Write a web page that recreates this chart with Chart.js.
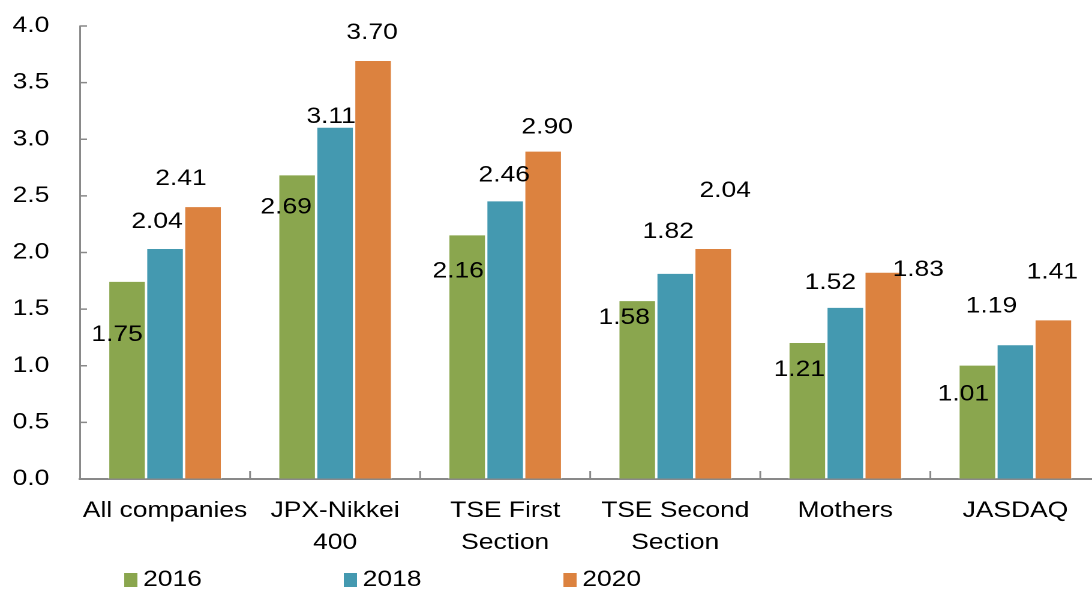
<!DOCTYPE html>
<html>
<head>
<meta charset="utf-8">
<script src="https://cdn.jsdelivr.net/npm/chart.js"></script>
<style>
    html, body { margin: 0; padding: 0; background: #fff; overflow: hidden; }
    /* the source picture is stretched sideways, so the chart is drawn narrow and widened */
    #wrap { width: 917px; height: 592px; transform: scaleX(1.2); transform-origin: 0 0; }
</style>
</head>
<body>
<div id="wrap"><canvas id="chart"></canvas></div>
<script>
document.addEventListener('DOMContentLoaded', () => {

    // --- data ---
    const categories = [
        'All companies',
        ['JPX-Nikkei', '400'],
        ['TSE First', 'Section'],
        ['TSE Second', 'Section'],
        'Mothers',
        'JASDAQ'
    ];
    const years = ['2016', '2018', '2020'];
    const values2016 = [1.75, 2.69, 2.16, 1.58, 1.21, 1.01];
    const values2018 = [2.04, 3.11, 2.46, 1.82, 1.52, 1.19];
    const values2020 = [2.41, 3.70, 2.90, 2.04, 1.83, 1.41];
    const yTicks = [0, 0.5, 1.0, 1.5, 2.0, 2.5, 3.0, 3.5, 4.0];

    // --- look ---
    const STRETCH = 1.2;
    const FONT = '"Liberation Sans", Arial, Helvetica, sans-serif';
    const AXIS_GREY = '#898989';
    const colors = ['#8aa64e', '#4499b0', '#dc823f'];

    // where each value label sits, relative to the top centre of its bar (picture px)
    const labelShift = [
        [[-10, 54], [-11, 33], [-9, 37], [-13, 18], [-8, 28], [-14, 30]],
        [[-8, -26], [-4, -10], [-1, -25], [-7, -41], [-15, -24], [-24, -38]],
        [[-22, -27], [-1, -27], [4, -23], [12, -57], [35, -2], [-1, -47]]
    ];

    Chart.defaults.font.family = FONT;
    Chart.defaults.font.size = 22;
    Chart.defaults.color = '#000';

    const series = [values2016, values2018, values2020];

    const valueLabels = {
        id: 'valueLabels',
        afterDatasetsDraw(chart) {
            const ctx = chart.ctx;
            ctx.save();
            ctx.font = '22px ' + FONT;
            ctx.fillStyle = '#000';
            ctx.textAlign = 'center';
            ctx.textBaseline = 'middle';
            chart.data.datasets.forEach((ds, d) => {
                chart.getDatasetMeta(d).data.forEach((bar, i) => {
                    const [dx, dy] = labelShift[d][i];
                    ctx.fillText(ds.data[i].toFixed(2), bar.x + dx / STRETCH, bar.y + dy);
                });
            });
            ctx.restore();
        }
    };

    // tick marks that point into the plot, plus the legend along the bottom
    const extras = {
        id: 'extras',
        afterDraw(chart) {
            const ctx = chart.ctx;
            const x = chart.scales.x;
            const y = chart.scales.y;
            const area = chart.chartArea;
            ctx.save();
            ctx.strokeStyle = AXIS_GREY;
            ctx.lineWidth = 1.5;
            yTicks.forEach(v => {
                if (v === 0) return;
                const py = y.getPixelForValue(v);
                ctx.beginPath();
                ctx.moveTo(area.left, py);
                ctx.lineTo(area.left + 7 / STRETCH, py);
                ctx.stroke();
            });
            for (let i = 1; i < categories.length; i++) {
                const px = (x.getPixelForValue(i - 1) + x.getPixelForValue(i)) / 2;
                ctx.beginPath();
                ctx.moveTo(px, area.bottom);
                ctx.lineTo(px, area.bottom - 8);
                ctx.stroke();
            }

            ctx.font = '22px ' + FONT;
            ctx.textAlign = 'left';
            ctx.textBaseline = 'middle';
            chart.data.datasets.forEach((ds, d) => {
                const bx = 103.5 + d * 183;
                ctx.fillStyle = ds.backgroundColor;
                ctx.fillRect(bx, 573, 11, 14);
                ctx.fillStyle = '#000';
                ctx.fillText(ds.label, bx + 15.8, 580);
            });
            ctx.restore();
        }
    };

    new Chart(document.getElementById('chart'), {
        type: 'bar',
        data: {
            labels: categories,
            datasets: years.map((yr, d) => ({
                label: yr,
                data: series[d],
                backgroundColor: colors[d],
                borderColor: 'rgba(255,255,255,0.55)',
                borderWidth: 1,
                borderSkipped: 'bottom',
                barPercentage: 1,
                categoryPercentage: 0.67
            }))
        },
        options: {
            responsive: true,
            maintainAspectRatio: false,
            animation: false,
            devicePixelRatio: 2,
            layout: { padding: { top: 26, left: 0, right: 0, bottom: 0 } },
            plugins: {
                legend: { display: false },
                tooltip: { enabled: false }
            },
            scales: {
                x: {
                    grid: { drawOnChartArea: false, drawTicks: false },
                    border: { color: AXIS_GREY, width: 2 },
                    ticks: {
                        padding: 16,
                        maxRotation: 0,
                        autoSkip: false,
                        font: { size: 22, lineHeight: 32 / 22 }
                    },
                    afterFit(scale) {
                        scale.height = 113;
                        scale.paddingLeft = 0;
                        scale.paddingRight = 0;
                    }
                },
                y: {
                    min: 0,
                    max: 4,
                    grid: { drawOnChartArea: false, drawTicks: false },
                    border: { color: AXIS_GREY, width: 1.5 },
                    ticks: {
                        stepSize: 0.5,
                        padding: 25.6,
                        callback: v => v.toFixed(1)
                    },
                    afterBuildTicks(scale) {
                        scale.ticks = yTicks.map(v => ({ value: v }));
                    },
                    afterFit(scale) {
                        scale.width = 80 / STRETCH;
                        scale.paddingTop = 0;
                        scale.paddingBottom = 0;
                    }
                }
            }
        },
        plugins: [valueLabels, extras]
    });
});
</script>
</body>
</html>
